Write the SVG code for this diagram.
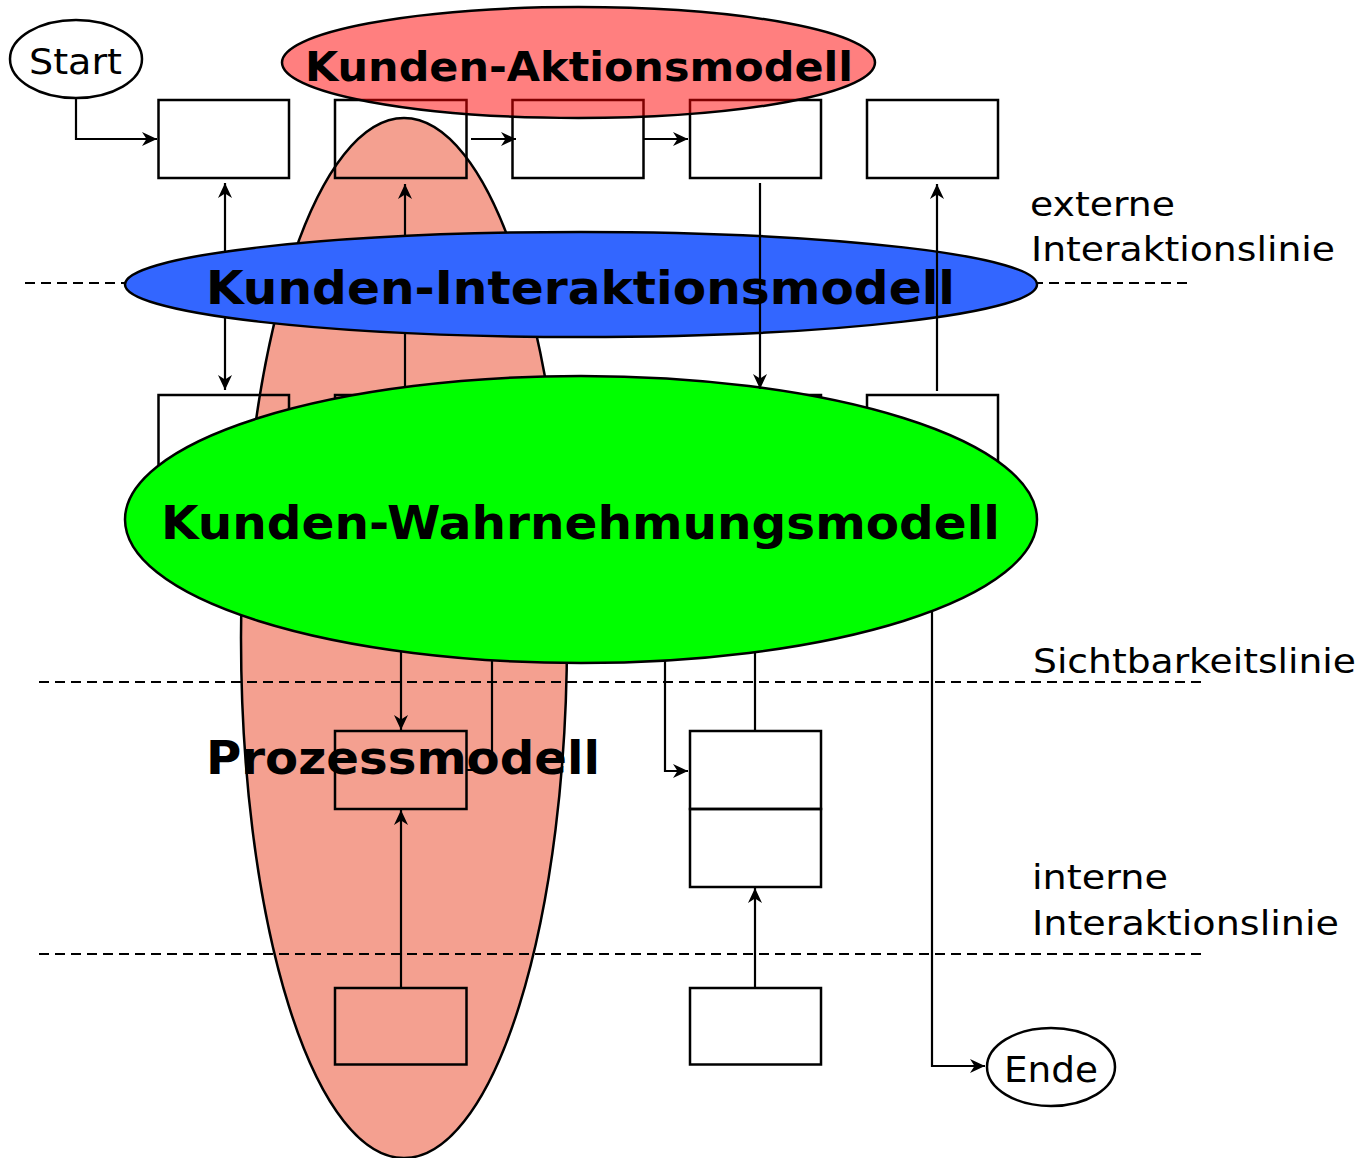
<svg xmlns="http://www.w3.org/2000/svg" width="1359" height="1158" viewBox="0 0 1359 1158">
<style>
.box{fill:none;stroke:#000;stroke-width:2.5}
.lane{fill:none;stroke:#000;stroke-width:2.2;stroke-dasharray:10 6}
.con{fill:none;stroke:#000;stroke-width:2.2}
.term{fill:#fff;stroke:#000;stroke-width:2.5}
.model{stroke:#000;stroke-width:2.5}
.lbl{font-family:"DejaVu Sans","Verdana",sans-serif;font-size:33px;fill:#000}
.term-t{font-family:"DejaVu Sans","Verdana",sans-serif;font-size:36px;fill:#000}
.mt{font-family:"DejaVu Sans","Verdana",sans-serif;font-weight:bold;font-size:46px;fill:#000}
</style>
<defs>
<marker id="arr" viewBox="0 0 16 16" refX="15" refY="8" markerWidth="16" markerHeight="16" markerUnits="userSpaceOnUse" orient="auto-start-reverse">
<path d="M0,1 L15,8 L0,15 L4.5,8 Z" fill="#000"/>
</marker>
</defs>
<rect width="1359" height="1158" fill="#fff"/>

<g id="prozessmodell-area">
<ellipse class="model" cx="404" cy="638" rx="163" ry="520" fill="#F4A090"/>
</g>

<g id="lanes">
<line class="lane" x1="25" y1="283" x2="1191" y2="283"/>
<line class="lane" x1="39" y1="682" x2="1207" y2="682"/>
<line class="lane" x1="39" y1="954" x2="1207" y2="954"/>
</g>

<g id="start"><ellipse class="term" cx="76" cy="59" rx="66" ry="39"/><text class="term-t" x="29" y="74" textLength="93" lengthAdjust="spacingAndGlyphs">Start</text></g>
<g id="ende"><ellipse class="term" cx="1051" cy="1067" rx="64" ry="39"/><text class="term-t" x="1004" y="1082" textLength="94" lengthAdjust="spacingAndGlyphs">Ende</text></g>

<g id="r1c1"><rect class="box" x="158.5" y="100" width="130.5" height="78"/></g>
<g id="r1c2"><rect class="box" x="335" y="100" width="131.5" height="78"/></g>
<g id="r1c3"><rect class="box" x="512.5" y="100" width="131" height="78"/></g>
<g id="r1c4"><rect class="box" x="690" y="100" width="131" height="78"/></g>
<g id="r1c5"><rect class="box" x="867" y="100" width="131" height="78"/></g>

<g id="r2c1"><rect class="box" x="158.5" y="395" width="130.5" height="78"/></g>
<g id="r2c2"><rect class="box" x="335" y="395" width="131.5" height="78"/></g>
<g id="r2c4"><rect class="box" x="690" y="395" width="131" height="78"/></g>
<g id="r2c5"><rect class="box" x="867" y="395" width="131" height="78"/></g>

<g id="r3c2"><rect class="box" x="335" y="731" width="131.5" height="78"/></g>
<g id="r3c4a"><rect class="box" x="690" y="731" width="131" height="78"/></g>
<g id="r3c4b"><rect class="box" x="690" y="809" width="131" height="78"/></g>

<g id="r4c2"><rect class="box" x="335" y="988" width="131.5" height="76.5"/></g>
<g id="r4c4"><rect class="box" x="690" y="988" width="131" height="76.5"/></g>

<g id="kunden-interaktionsmodell">
<ellipse class="model" cx="581" cy="284.5" rx="456" ry="52.5" fill="#3366FF"/>
<text class="mt" x="206" y="304" textLength="749" lengthAdjust="spacingAndGlyphs">Kunden-Interaktionsmodell</text>
</g>

<g id="kunden-aktionsmodell">
<ellipse class="model" cx="578.5" cy="62.5" rx="296.5" ry="55.5" fill="#FF0000" fill-opacity="0.5"/>
<text class="mt" x="305" y="81" style="font-size:40px" textLength="548" lengthAdjust="spacingAndGlyphs">Kunden-Aktionsmodell</text>
</g>

<g id="kunden-wahrnehmungsmodell">
<ellipse class="model" cx="581" cy="519.5" rx="456" ry="143.5" fill="#00FF00"/>
<text class="mt" x="161" y="539" textLength="839" lengthAdjust="spacingAndGlyphs">Kunden-Wahrnehmungsmodell</text>
</g>

<g id="connectors">
<path class="con" d="M76,98 V139 H157" marker-end="url(#arr)"/>
<path class="con" d="M471,139 H516" marker-end="url(#arr)"/>
<path class="con" d="M644,139 H688" marker-end="url(#arr)"/>
<path class="con" d="M225,252 V183" marker-end="url(#arr)"/>
<path class="con" d="M225,317 V390" marker-end="url(#arr)"/>
<path class="con" d="M405,236 V184" marker-end="url(#arr)"/>
<path class="con" d="M405,333 V387.5"/>
<path class="con" d="M760,183 V389" marker-end="url(#arr)"/>
<path class="con" d="M937,391 V184" marker-end="url(#arr)"/>
<path class="con" d="M401,651 V730" marker-end="url(#arr)"/>
<path class="con" d="M492,660 V770 H467"/>
<path class="con" d="M665,660 V771 H688" marker-end="url(#arr)"/>
<path class="con" d="M755,652 V731"/>
<path class="con" d="M932,611 V1066 H985" marker-end="url(#arr)"/>
<path class="con" d="M401,988 V810" marker-end="url(#arr)"/>
<path class="con" d="M755,988 V888" marker-end="url(#arr)"/>
</g>

<g id="prozessmodell-label">
<text class="mt" x="206" y="774" textLength="394" lengthAdjust="spacingAndGlyphs">Prozessmodell</text>
</g>

<g id="lane-labels">
<text class="lbl" x="1030" y="216" textLength="145" lengthAdjust="spacingAndGlyphs">externe</text>
<text class="lbl" x="1031" y="261" textLength="304" lengthAdjust="spacingAndGlyphs">Interaktionslinie</text>
<text class="lbl" x="1033" y="673" textLength="323" lengthAdjust="spacingAndGlyphs">Sichtbarkeitslinie</text>
<text class="lbl" x="1032" y="889" textLength="136" lengthAdjust="spacingAndGlyphs">interne</text>
<text class="lbl" x="1032" y="935" textLength="307" lengthAdjust="spacingAndGlyphs">Interaktionslinie</text>
</g>
</svg>
